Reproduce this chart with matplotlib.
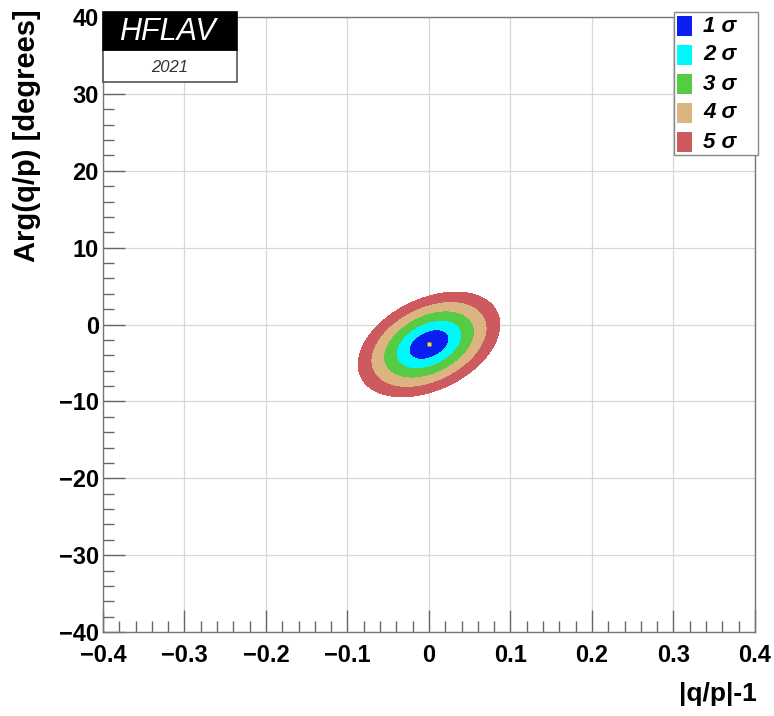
import numpy as np
import matplotlib
matplotlib.use("Agg")
import matplotlib.pyplot as plt
from matplotlib.patches import Rectangle

# ---- data ----
center_x = 0.0          # |q/p|-1
center_y = -2.6         # Arg(q/p) [deg]
sigma_x = 0.0162
sigma_y = 1.27
rho = 0.38
sigma_labels = ["1 σ", "2 σ", "3 σ", "4 σ", "5 σ"]
delta_chi2 = [2.30, 6.18, 11.83, 19.33, 28.74]     # 2D n-sigma levels
sigma_colors = ["#0a1ef0", "#00f8fa", "#55cc44", "#dbb482", "#cc5a5e"]
x_ticks = [-0.4, -0.3, -0.2, -0.1, 0, 0.1, 0.2, 0.3, 0.4]
x_ticklabels = ["\u22120.4", "\u22120.3", "\u22120.2", "\u22120.1", "0", "0.1", "0.2", "0.3", "0.4"]
y_ticks = [-40, -30, -20, -10, 0, 10, 20, 30, 40]
y_ticklabels = ["\u221240", "\u221230", "\u221220", "\u221210", "0", "10", "20", "30", "40"]

plt.rcParams['font.family'] = ['Liberation Sans', 'DejaVu Sans']

W, H = 774, 716
fig = plt.figure(figsize=(W / 100, H / 100), dpi=100)
L, R, T, B = 103, 755, 17, 632
ax = fig.add_axes([L / W, 1 - B / H, (R - L) / W, (B - T) / H])
ax.set_xlim(-0.4, 0.4)
ax.set_ylim(-40, 40)

# likelihood surface
gx = np.linspace(-0.4, 0.4, 801)
gy = np.linspace(-40, 40, 801)
X, Y = np.meshgrid(gx, gy)
dx = (X - center_x) / sigma_x
dy = (Y - center_y) / sigma_y
chi2 = (dx ** 2 - 2 * rho * dx * dy + dy ** 2) / (1 - rho ** 2)
levels = [0] + delta_chi2
ax.contourf(X, Y, chi2, levels=levels, colors=sigma_colors, zorder=2)
ax.plot([center_x], [center_y], marker='s', ms=3, color='#f0e020', mec='none', zorder=3)

# grid / ticks
ax.set_xticks(x_ticks)
ax.set_xticklabels(x_ticklabels, fontsize=17, fontweight='bold')
ax.set_yticks(y_ticks)
ax.set_yticklabels(y_ticklabels, fontsize=17, fontweight='bold')
ax.set_xticks(np.arange(-0.4, 0.401, 0.02), minor=True)
ax.set_yticks(np.arange(-40, 40.1, 2), minor=True)
ax.grid(True, which='major', color='#d8d8d8', linewidth=0.9, zorder=0)
ax.set_axisbelow(True)
ax.tick_params(which='major', direction='in', length=16, width=1.0, color='#666666')
ax.tick_params(axis='x', which='major', pad=9)
ax.tick_params(axis='y', which='major', pad=3)
ax.tick_params(which='minor', direction='in', length=8, width=1.0, color='#666666')
for s in ax.spines.values():
    s.set_color('#777777')
    s.set_linewidth(1.0)

fig.text(757 / W, 1 - 694 / H, "|q/p|-1", ha='right', va='center', fontsize=19, fontweight='bold')
fig.text(27 / W, 1 - 9 / H, "Arg(q/p) [degrees]", ha='center', va='top', rotation=90,
         fontsize=21, fontweight='bold')

# HFLAV logo box
fig.patches.append(Rectangle((103 / W, 1 - 82 / H), (237 - 103) / W, (82 - 50) / H,
                             transform=fig.transFigure, facecolor='white', edgecolor='#555555',
                             linewidth=1.2, zorder=5))
fig.patches.append(Rectangle((103 / W, 1 - 50 / H), (237 - 103) / W, (50 - 12) / H,
                             transform=fig.transFigure, facecolor='black', edgecolor='black',
                             linewidth=1.2, zorder=6))
fig.text(167 / W, 1 - 32 / H, "HFLAV", ha='center', va='center', color='white', fontsize=22,
         fontstyle='italic', zorder=7)
fig.text(170 / W, 1 - 67 / H, "2021", ha='center', va='center', color='#333333', fontsize=12,
         fontstyle='italic', zorder=7)

# legend box
fig.patches.append(Rectangle((674 / W, 1 - 155 / H), (758 - 674) / W, (155 - 12) / H,
                             transform=fig.transFigure, facecolor='white', edgecolor='#888888',
                             linewidth=1.0, zorder=5))
for i, (lab, col) in enumerate(zip(sigma_labels, sigma_colors)):
    yc = 26 + i * 29
    fig.patches.append(Rectangle((677 / W, 1 - (yc + 10) / H), 15 / W, 20 / H,
                                 transform=fig.transFigure, facecolor=col, edgecolor='none', zorder=6))
    fig.text(703 / W, 1 - yc / H, lab, ha='left', va='center', fontsize=16,
             fontweight='bold', fontstyle='italic', zorder=7)

fig.savefig("out.png", dpi=100)
